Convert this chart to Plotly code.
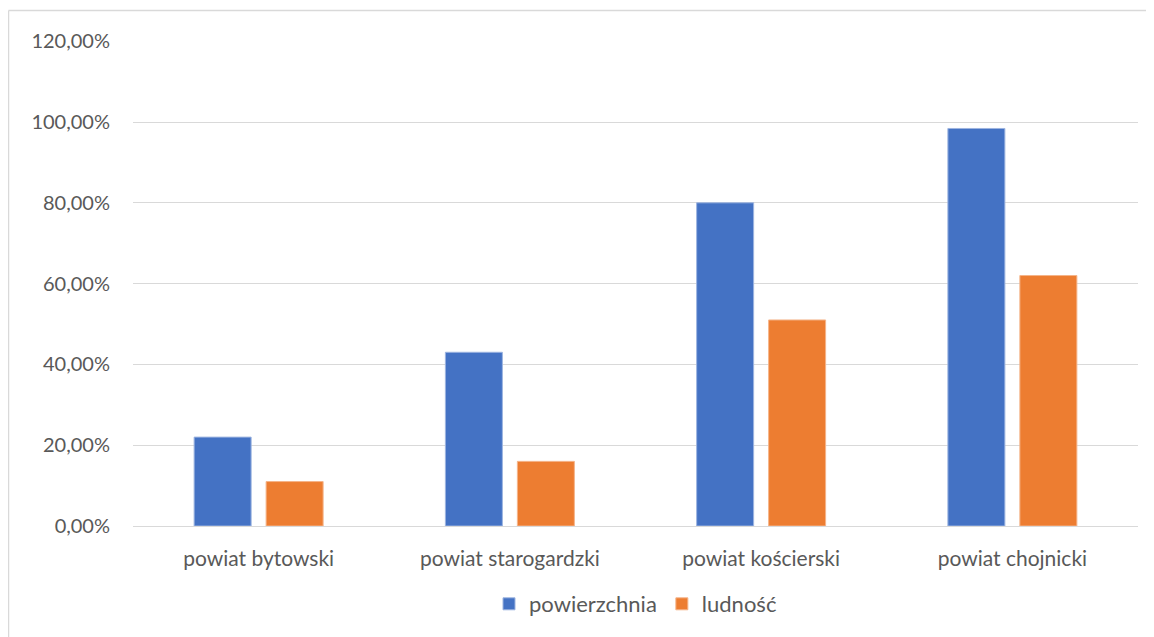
import plotly.graph_objects as go

categories = ["powiat bytowski", "powiat starogardzki", "powiat kościerski", "powiat chojnicki"]
powierzchnia = [0.22, 0.43, 0.80, 0.984]
ludnosc = [0.11, 0.16, 0.51, 0.62]
tick_vals = [0, 0.2, 0.4, 0.6, 0.8, 1.0, 1.2]
tick_text = ["0,00%", "20,00%", "40,00%", "60,00%", "80,00%", "100,00%", "120,00%"]

OFF = 8  # default page body margin
W, H = 1154 - OFF, 637 - OFF
ml, mr, mt, mb = 133 - OFF, 16, 41 - OFF, 111
pw, ph = W - ml - mr, H - mt - mb

fig = go.Figure()
fig.add_trace(go.Bar(name="powierzchnia", x=categories, y=powierzchnia,
                     marker=dict(color="#4472C4", line=dict(color="#9DB4E0", width=1))))
fig.add_trace(go.Bar(name="ludność", x=categories, y=ludnosc,
                     marker=dict(color="#ED7D31", line=dict(color="#F5B48A", width=1))))

fam = "Lato, 'Open Sans', sans-serif"
xfont = dict(family=fam, size=21, color="#595959")
yfont = dict(family=fam, size=20, color="#595959")

fig.update_layout(
    width=W, height=H,
    margin=dict(l=ml, r=mr, t=mt, b=mb),
    paper_bgcolor="white", plot_bgcolor="white",
    barmode="group", bargap=0.427, bargroupgap=0.208,
    font=yfont,
    showlegend=True,
    legend=dict(orientation="h", x=0.5, xanchor="center",
                y=(H - (604 - OFF) - mb) / ph, yanchor="middle",
                font=dict(family=fam, size=22, color="#595959"),
                itemwidth=30, tracegroupgap=0),
    xaxis=dict(showgrid=False, showline=False, ticks="", tickfont=xfont, ticklabelstandoff=18),
    yaxis=dict(range=[0, 1.2005], tickvals=tick_vals, ticktext=tick_text, showgrid=True,
               gridcolor="#D9D9D9", gridwidth=1, zeroline=True, zerolinecolor="#D9D9D9",
               zerolinewidth=1, showline=False, ticks="", tickfont=yfont, ticklabelstandoff=22),
)

# outer chart border (left and top edges visible)
x_left = (0.5 - ml) / pw
y_top = (H - 2.5 - mb) / ph
fig.add_shape(type="line", xref="paper", yref="paper", x0=x_left, x1=(W + 5 - ml) / pw,
              y0=y_top, y1=y_top, line=dict(color="#D9D9D9", width=1.5))
fig.add_shape(type="line", xref="paper", yref="paper", x0=x_left, x1=x_left,
              y0=y_top, y1=(-mb - 5) / ph, line=dict(color="#D9D9D9", width=1.5))

fig.write_html("out.html")
